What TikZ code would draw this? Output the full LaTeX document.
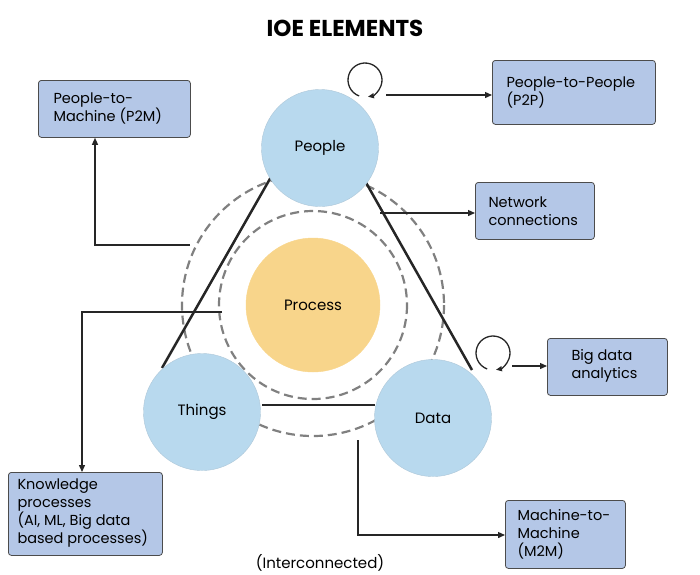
\documentclass[tikz,border=0pt]{standalone}
\usepackage{fontspec}
\setmainfont{Poppins}
\usetikzlibrary{arrows.meta}
\definecolor{cblue}{HTML}{B8D9EE}
\definecolor{bbox}{HTML}{B4C7E7}
\definecolor{porange}{HTML}{F8D58B}
\begin{document}
\begin{tikzpicture}[x=1pt,y=-1pt,
  circ/.style={circle,fill=cblue,draw=cblue!80!gray,inner sep=0pt,font=\fontsize{15}{17}\selectfont},
  box/.style={rectangle,rounded corners=3pt,fill=bbox,draw=black!70,line width=0.8pt,align=left,anchor=north west,inner sep=0pt},
  lbl/.style={align=left,anchor=west,font=\fontsize{14.5}{18}\selectfont},
  conn/.style={line width=1.3pt,black!85},
  arr/.style={conn,-{Triangle[length=7pt,width=6pt]}},
  dashc/.style={gray,line width=2.2pt,dash pattern=on 9pt off 5pt}]
\useasboundingbox (0,0) rectangle (700,574);
\node[font=\bfseries\fontsize{23}{26}\selectfont] (title) at (345,28) {IOE ELEMENTS};
\draw[dashc] (313,305) circle (131);
\draw[dashc] (313,305) circle (94);
\node[circ,fill=porange,draw=porange,minimum size=134pt] (proc) at (313,305) {Process};
\draw[line width=2.5pt,black!85] (275,170) -- (162,368);
\draw[line width=2.5pt,black!85] (360,172) -- (472,370);
\draw[conn] (262,405) -- (375,405);
\node[circ,minimum size=117pt] (people) at (320,148) {People};
\node[circ,minimum size=117pt] (things) at (202,412) {Things};
\node[circ,minimum size=117pt] (data) at (433,418) {Data};
% boxes
\node[box,minimum width=152pt,minimum height=57pt] (p2m) at (38,80) {};
\node[lbl] at (50,108) {People-to-\\Machine (P2M)};
\node[box,minimum width=163pt,minimum height=64pt] (p2p) at (492,60) {};
\node[lbl] at (503,92) {People-to-People\\(P2P)};
\node[box,minimum width=119pt,minimum height=57pt] (net) at (475,182) {};
\node[lbl] at (485,211) {Network\\connections};
\node[box,minimum width=120pt,minimum height=57pt] (bda) at (547,338) {};
\node[lbl] at (568,366) {Big data\\analytics};
\node[box,minimum width=154pt,minimum height=83pt] (kp) at (8,472) {};
\node[lbl] at (14,513) {Knowledge\\processes\\(AI, ML, Big data\\based processes)};
\node[box,minimum width=120pt,minimum height=68pt] (m2m) at (505,500) {};
\node[lbl] at (514,534) {Machine-to-\\Machine\\(M2M)};
\node[font=\fontsize{15}{17}\selectfont] (ic) at (320,563) {(Interconnected)};
% connectors
\draw[conn,-{Triangle[length=6pt,width=5pt]}] (365,80) ++(110:17) arc[start angle=110,end angle=440,radius=17];
\draw[arr] (386,95) -- (p2p.west|-0,95);
\draw[arr] (190,245) -- (95,245) -- (p2m.south-|95,0);
\draw[arr] (380,213) -- (net.west|-0,213);
\draw[conn,-{Triangle[length=6pt,width=5pt]}] (493,353) ++(110:17) arc[start angle=110,end angle=440,radius=17];
\draw[arr] (512,366) -- (bda.west|-0,366);
\draw[arr] (222,312) -- (82,312) -- (kp.north-|82,0);
\draw[arr] (358,440) -- (358,535) -- (m2m.west|-0,535);
\end{tikzpicture}
\end{document}
